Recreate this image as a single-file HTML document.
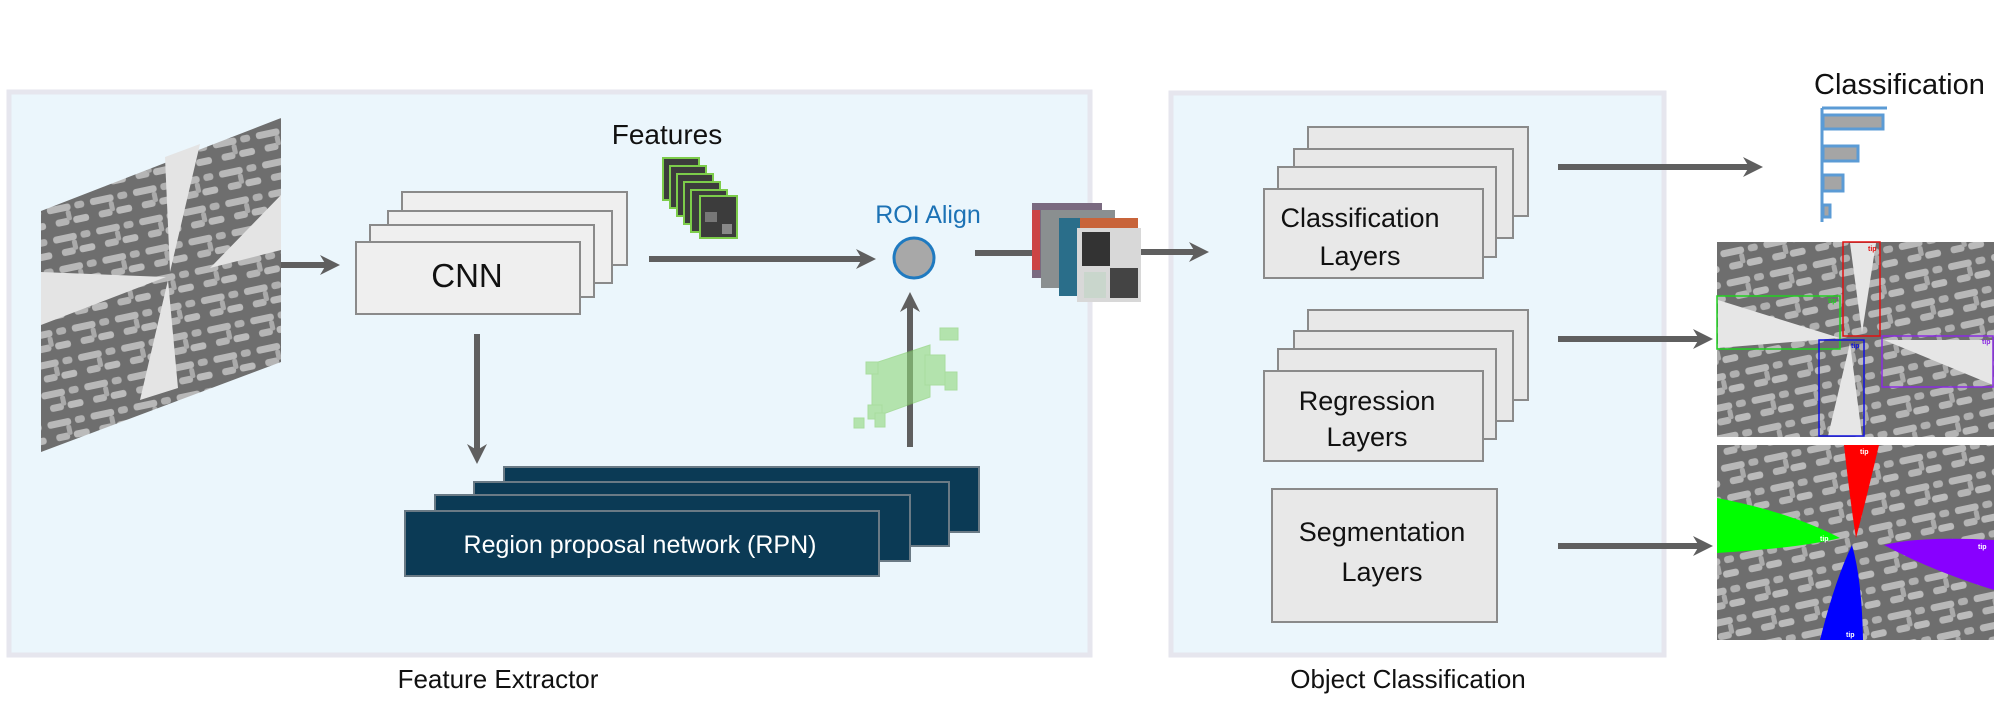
<!DOCTYPE html>
<html><head><meta charset="utf-8"><style>
html,body{margin:0;padding:0;background:#fff;}
svg{display:block;}
text{font-family:"Liberation Sans",sans-serif;}
</style></head><body>
<svg width="2000" height="719" viewBox="0 0 2000 719" xmlns="http://www.w3.org/2000/svg">
<defs>
<pattern id="sem" width="44" height="30" patternUnits="userSpaceOnUse" patternTransform="rotate(-12)">
<rect width="44" height="30" fill="#6e6e6e"/>
<rect x="2" y="3" width="24" height="7" rx="3" fill="#b8b8b8"/>
<rect x="30" y="3" width="10" height="7" rx="3" fill="#b0b0b0"/>
<rect x="8" y="17" width="14" height="7" rx="3" fill="#b5b5b5"/>
<rect x="26" y="17" width="16" height="7" rx="3" fill="#bbb"/>
<rect x="20" y="10" width="5" height="10" rx="2" fill="#aaa"/>
</pattern>
<marker id="ah" markerWidth="22" markerHeight="22" refX="14" refY="11" orient="auto" markerUnits="userSpaceOnUse" viewBox="0 0 22 22">
<path d="M0,1 L20,11 L0,21 L6,11 Z" fill="#5f5f5f"/>
</marker>
</defs>
<rect width="2000" height="719" fill="#fff"/>
<!-- panels -->
<rect x="9" y="92" width="1081" height="563" fill="#ebf6fc" stroke="#e6e6ee" stroke-width="5"/>
<rect x="1171" y="93" width="493" height="562" fill="#ebf6fc" stroke="#e6e6ee" stroke-width="5"/>
<text x="498" y="688" font-size="26" text-anchor="middle" fill="#111">Feature Extractor</text>
<text x="1408" y="688" font-size="26" text-anchor="middle" fill="#111">Object Classification</text>

<!-- SEM input -->
<polygon points="41,211 281,118 281,362 41,452" fill="url(#sem)"/>
<g fill="#e4e4e4">
<polygon points="165,157 200,144 170,272"/>
<polygon points="41,272 41,325 166,277"/>
<polygon points="281,195 281,250 210,268"/>
<polygon points="140,400 178,388 168,280"/>
</g>

<!-- arrows -->
<g stroke="#5f5f5f" stroke-width="6" fill="none">
<line x1="281" y1="265" x2="334" y2="265" marker-end="url(#ah)"/>
<line x1="649" y1="259" x2="870" y2="259" marker-end="url(#ah)"/>
<line x1="477" y1="334" x2="477" y2="458" marker-end="url(#ah)"/>
<line x1="910" y1="447" x2="910" y2="298" marker-end="url(#ah)"/>
<line x1="975" y1="253" x2="1034" y2="253"/>
<line x1="1141" y1="252" x2="1203" y2="252" marker-end="url(#ah)"/>
<line x1="1558" y1="167" x2="1757" y2="167" marker-end="url(#ah)"/>
<line x1="1558" y1="339" x2="1707" y2="339" marker-end="url(#ah)"/>
<line x1="1558" y1="546" x2="1707" y2="546" marker-end="url(#ah)"/>
</g>

<!-- CNN stack -->
<g fill="#efefef" stroke="#8a8a8a" stroke-width="2">
<rect x="402" y="192" width="225" height="73"/>
<rect x="388" y="211" width="224" height="72"/>
<rect x="370" y="225" width="224" height="72"/>
<rect x="356" y="242" width="224" height="72"/>
</g>
<text x="467" y="287" font-size="33" text-anchor="middle" fill="#111">CNN</text>

<!-- Features -->
<text x="667" y="144" font-size="28" text-anchor="middle" fill="#111">Features</text>
<g stroke="#7ccc4a" stroke-width="2" fill="#3c3c3c">
<rect x="663" y="158" width="36" height="42"/>
<rect x="670" y="166" width="36" height="42"/>
<rect x="677" y="174" width="36" height="42"/>
<rect x="684" y="182" width="36" height="42"/>
<rect x="691" y="190" width="36" height="42"/>
<rect x="700" y="196" width="37" height="42"/>
</g>
<rect x="705" y="212" width="12" height="10" fill="#777"/>
<rect x="722" y="224" width="10" height="10" fill="#888"/>

<!-- ROI Align -->
<text x="928" y="223" font-size="25" text-anchor="middle" fill="#1c72b5">ROI Align</text>
<circle cx="914" cy="258" r="20" fill="#a8a8a8" stroke="#1f7ac0" stroke-width="3"/>

<!-- green proposals -->
<g fill="#8fd77a" opacity="0.6" stroke="#7ccc60">
<polygon points="872,364 930,345 930,397 872,418"/>
<rect x="866" y="362" width="12" height="12"/>
<rect x="940" y="328" width="18" height="12"/>
<rect x="925" y="355" width="20" height="30"/>
<rect x="945" y="372" width="12" height="18"/>
<rect x="868" y="405" width="14" height="14"/>
<rect x="854" y="418" width="10" height="10"/>
<rect x="875" y="413" width="10" height="14"/>
</g>

<!-- RPN -->
<g fill="#0b3a55" stroke="#6a7a85" stroke-width="2">
<rect x="504" y="467" width="475" height="65"/>
<rect x="474" y="482" width="475" height="64"/>
<rect x="435" y="495" width="475" height="66"/>
<rect x="405" y="511" width="474" height="65"/>
</g>
<text x="640" y="553" font-size="25" text-anchor="middle" fill="#fff">Region proposal network (RPN)</text>

<!-- ROI crops -->
<rect x="1032" y="203" width="70" height="75" fill="#7a6a80"/>
<rect x="1032" y="210" width="8" height="60" fill="#c44"/>
<rect x="1041" y="210" width="74" height="78" fill="#8a8f90"/>
<rect x="1059" y="218" width="76" height="78" fill="#2a6e8a"/>
<rect x="1080" y="218" width="58" height="12" fill="#c8643a"/>
<rect x="1077" y="228" width="64" height="74" fill="#d8d8d8"/>
<rect x="1082" y="232" width="28" height="34" fill="#333"/>
<rect x="1110" y="268" width="28" height="30" fill="#444"/>
<rect x="1084" y="272" width="22" height="26" fill="#c9d6cc"/>

<!-- layers -->
<g fill="#e8e8e8" stroke="#8a8a8a" stroke-width="2">
<rect x="1308" y="127" width="220" height="89"/>
<rect x="1294" y="149" width="219" height="89"/>
<rect x="1278" y="167" width="218" height="90"/>
<rect x="1264" y="189" width="219" height="89"/>
<rect x="1308" y="310" width="220" height="90"/>
<rect x="1294" y="331" width="219" height="90"/>
<rect x="1278" y="349" width="218" height="90"/>
<rect x="1264" y="371" width="219" height="90"/>
<rect x="1272" y="489" width="225" height="133"/>
</g>
<g font-size="27" text-anchor="middle" fill="#111">
<text x="1360" y="227">Classification</text>
<text x="1360" y="265">Layers</text>
<text x="1367" y="410">Regression</text>
<text x="1367" y="446">Layers</text>
<text x="1382" y="541">Segmentation</text>
<text x="1382" y="581">Layers</text>
</g>

<!-- Classification output -->
<text x="1814" y="94" font-size="29" fill="#111">Classification</text>
<g stroke="#5b9bd5" stroke-width="3" fill="#a5a5a5">
<line x1="1822" y1="108" x2="1822" y2="222"/>
<line x1="1822" y1="108" x2="1887" y2="108"/>
<rect x="1823" y="115" width="60" height="14"/>
<rect x="1823" y="146" width="35" height="15"/>
<rect x="1823" y="175" width="20" height="16"/>
<rect x="1823" y="205" width="7" height="12"/>
</g>

<!-- detection image -->
<rect x="1717" y="242" width="277" height="195" fill="url(#sem)"/>
<g fill="#e6e6e6">
<polygon points="1850,243 1876,243 1862,333"/>
<polygon points="1718,300 1718,348 1840,338"/>
<polygon points="1828,436 1862,436 1850,343"/>
<polygon points="1993,340 1993,385 1884,340"/>
</g>
<g fill="none" stroke-width="1.5">
<rect x="1843" y="242" width="37" height="94" stroke="#e01010"/>
<rect x="1717" y="296" width="123" height="53" stroke="#22d022"/>
<rect x="1819" y="340" width="45" height="96" stroke="#1010e0"/>
<rect x="1882" y="336" width="111" height="51" stroke="#8a2be2"/>
</g>
<g font-size="7" font-weight="bold">
<text x="1868" y="251" fill="#e01010">tip</text>
<text x="1828" y="303" fill="#22d022">tip</text>
<text x="1851" y="348" fill="#1010e0">tip</text>
<text x="1982" y="344" fill="#8a2be2">tip</text>
</g>

<!-- segmentation image -->
<rect x="1717" y="445" width="277" height="195" fill="url(#sem)"/>
<path d="M1844,445 L1879,445 Q1866,500 1856,538 Q1850,500 1844,445 Z" fill="#ff0000"/>
<path d="M1717,498 Q1790,512 1840,538 Q1800,548 1717,553 Z" fill="#00ff00"/>
<path d="M1820,640 Q1835,580 1852,545 Q1862,580 1863,640 Z" fill="#0000ff"/>
<path d="M1994,540 Q1920,536 1884,545 Q1930,570 1994,590 Z" fill="#8800ff"/>
<g font-size="7" font-weight="bold" fill="#fff">
<text x="1860" y="454">tip</text>
<text x="1820" y="541">tip</text>
<text x="1846" y="637">tip</text>
<text x="1978" y="549">tip</text>
</g>
</svg>
</body></html>
